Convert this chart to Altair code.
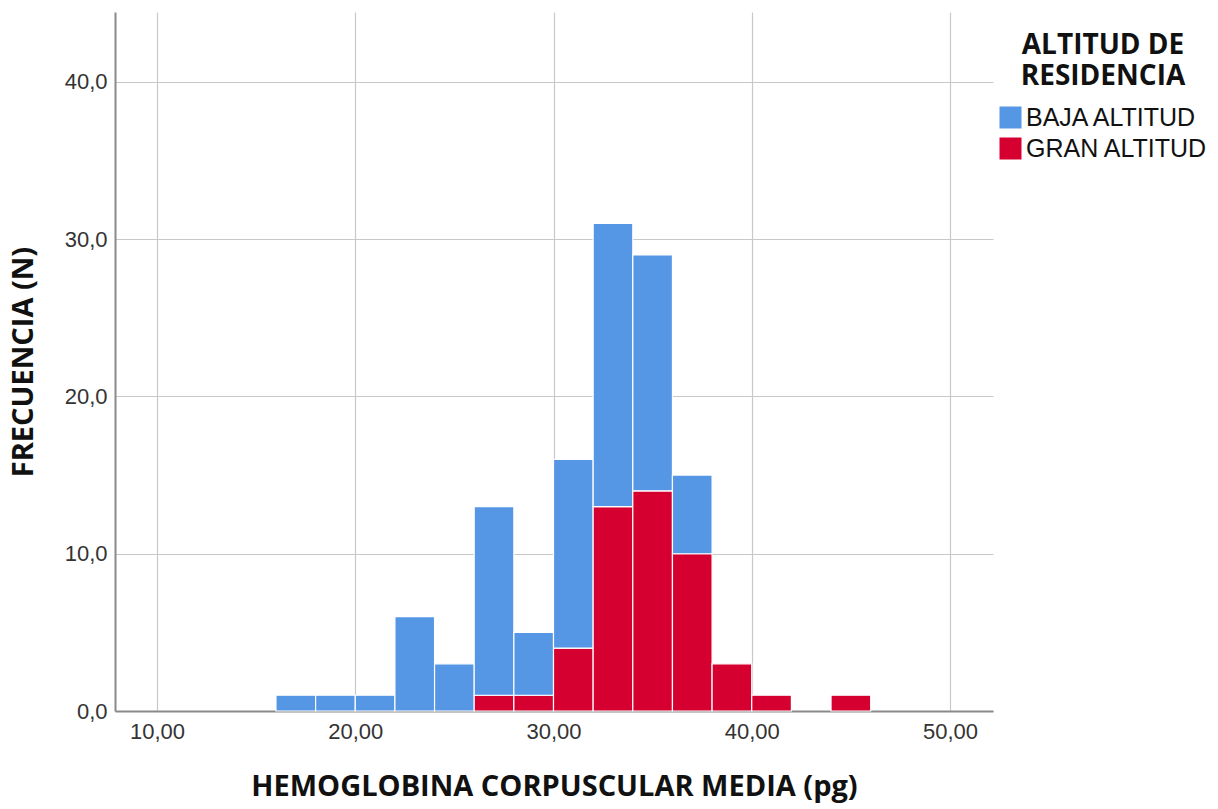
import altair as alt
import pandas as pd

bin_start = [16, 18, 20, 22, 24, 26, 28, 30, 32, 34, 36, 38, 40, 42, 44]
baja = [1, 1, 1, 6, 3, 12, 4, 12, 18, 15, 5, 0, 0, 0, 0]
gran = [0, 0, 0, 0, 0, 1, 1, 4, 13, 14, 10, 3, 1, 0, 1]
groups = ["BAJA ALTITUD", "GRAN ALTITUD"]
colors = ["#5596E5", "#D5002F"]
bin_width = 2

rows = []
for s, b, g in zip(bin_start, baja, gran):
    rows.append({"start": s, "end": s + bin_width, "n": g, "grupo": groups[1], "ord": 0})
    rows.append({"start": s, "end": s + bin_width, "n": b, "grupo": groups[0], "ord": 1})
df = pd.DataFrame(rows)
df = df[df["n"] > 0]

x_title = "HEMOGLOBINA CORPUSCULAR MEDIA (pg)"
y_title = "FRECUENCIA (N)"

chart = alt.Chart(df).mark_bar(stroke="white", strokeWidth=1.2, opacity=1).encode(
    x=alt.X("start:Q",
            scale=alt.Scale(domain=[7.88, 52.17], nice=False, zero=False, padding=0),
            axis=alt.Axis(values=[10, 20, 30, 40, 50],
                          labelExpr="replace(format(datum.value, '.2f'), '.', ',')",
                          title=x_title, titlePadding=30)),
    x2="end:Q",
    y=alt.Y("sum(n):Q", stack="zero",
            scale=alt.Scale(domain=[0, 44.45], nice=False, padding=0),
            axis=alt.Axis(values=[0, 10, 20, 30, 40],
                          labelExpr="replace(format(datum.value, '.1f'), '.', ',')",
                          title=y_title, titlePadding=26)),
    color=alt.Color("grupo:N",
                    scale=alt.Scale(domain=groups, range=colors),
                    legend=alt.Legend(title=["ALTITUD DE", "RESIDENCIA"],
                                      orient="none", legendX=883, legendY=20,
                                      titleAnchor="middle", titleAlign="center",
                                      titleLimit=0, labelLimit=0,
                                      symbolType="square", symbolSize=484,
                                      symbolStrokeWidth=0, symbolOpacity=1,
                                      titleFont="Open Sans", titleFontSize=28,
                                      titleFontWeight="bold", titleColor="#111",
                                      titleLineHeight=31, titlePadding=14,
                                      labelFont="Liberation Sans", labelFontSize=25,
                                      labelColor="#111", labelOffset=3,
                                      rowPadding=5)),
    order=alt.Order("ord:Q"),
).properties(
    width=878, height=699,
    autosize=alt.AutoSizeParams(type="none"),
    padding={"left": 115, "top": 12, "right": 225, "bottom": 98},
).configure_view(stroke=None).configure_axis(
    grid=True, gridColor="#c8c8c8", gridWidth=1.2,
    domain=True, domainColor="#8a8a8a", domainWidth=2,
    ticks=False,
    labelFont="Liberation Sans", labelFontSize=22, labelColor="#333",
    titleFont="Open Sans", titleFontSize=29, titleFontWeight="bold", titleColor="#111",
).configure_axisX(labelPadding=10).configure_axisY(labelPadding=8)

chart.save("out.html", embed_options={"renderer": "svg", "actions": False})
